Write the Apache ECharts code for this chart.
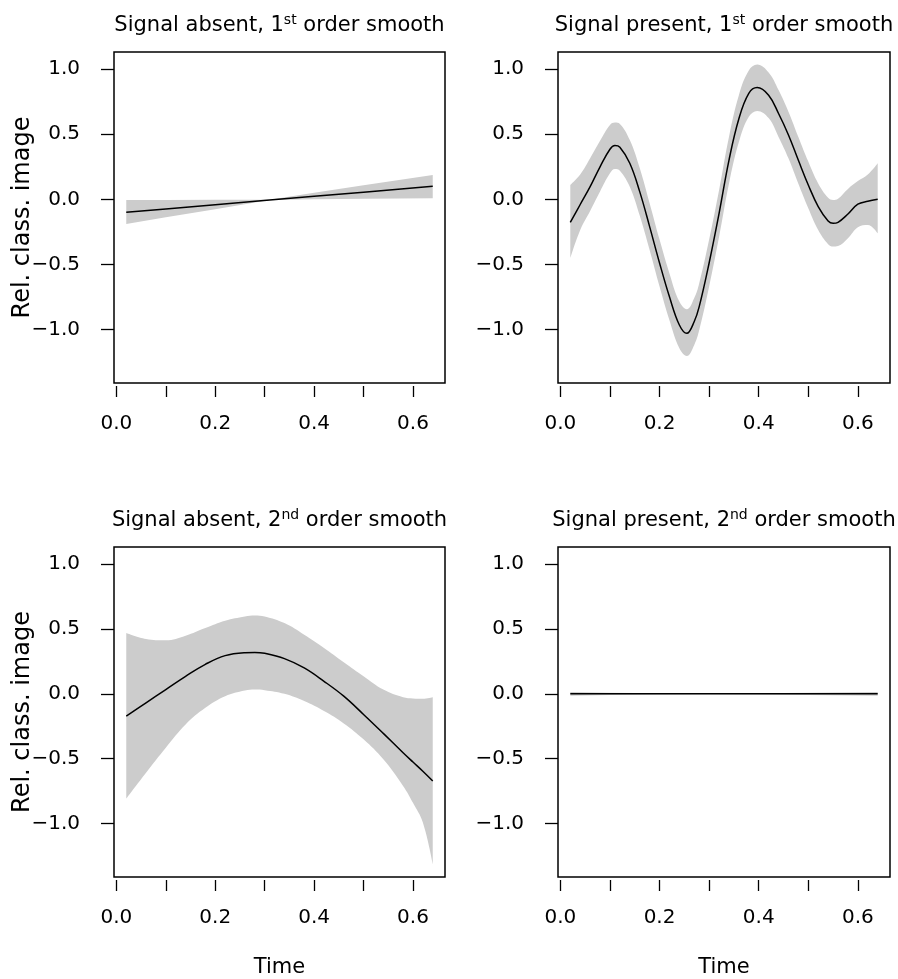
<!DOCTYPE html>
<html><head><meta charset="utf-8">
<script src="https://cdn.jsdelivr.net/npm/echarts@6/dist/echarts.min.js"></script>
<style>html,body{margin:0;padding:0;background:#fff}#c{width:898px;height:979px}</style>
</head><body><div id="c"></div>
<script>
const FONT = 'DejaVu Sans';
const titleMain = ['Signal absent, 1', 'Signal present, 1', 'Signal absent, 2', 'Signal present, 2'];
const titleSup = ['st', 'st', 'nd', 'nd'];
const titleRest = ' order smooth';
const yName = 'Rel. class. image';
const xName = 'Time';
const xTicks = [0, 0.1, 0.2, 0.3, 0.4, 0.5, 0.6];
const xLabels = [0, 0.2, 0.4, 0.6];
const yTicks = [-1, -0.5, 0, 0.5, 1];

// Panel 1: signal absent, 1st order smooth
const x1 = [0.02, 0.1, 0.2, 0.31, 0.4, 0.5, 0.64];
const mid1 = [-0.10, -0.074, -0.042, -0.006, 0.023, 0.055, 0.10];
const up1 = [-0.006, -0.005, -0.004, -0.003, 0.051, 0.108, 0.187];
const lo1 = [-0.19, -0.139, -0.076, -0.006, 0.001, 0.004, 0.008];

// Panel 2: signal present, 1st order smooth
const x2 = [0.02, 0.04, 0.06, 0.08, 0.10, 0.11, 0.12, 0.14, 0.16, 0.18, 0.20, 0.22, 0.24, 0.255, 0.27, 0.28, 0.30, 0.32, 0.34, 0.36, 0.38, 0.397, 0.42, 0.44, 0.46, 0.48, 0.50, 0.52, 0.54, 0.55, 0.56, 0.58, 0.60, 0.62, 0.64];
const mid2 = [-0.177, -0.04, 0.097, 0.25, 0.385, 0.413, 0.40, 0.277, 0.059, -0.21, -0.49, -0.75, -0.967, -1.031, -0.94, -0.826, -0.49, -0.11, 0.30, 0.62, 0.815, 0.859, 0.80, 0.66, 0.495, 0.30, 0.11, -0.056, -0.167, -0.185, -0.177, -0.113, -0.038, -0.015, 0.0];
const up2 = [0.11, 0.19, 0.315, 0.45, 0.572, 0.59, 0.58, 0.456, 0.24, -0.03, -0.31, -0.57, -0.787, -0.846, -0.76, -0.646, -0.31, 0.07, 0.48, 0.80, 0.99, 1.036, 0.975, 0.84, 0.674, 0.48, 0.29, 0.122, 0.012, -0.005, 0.005, 0.08, 0.14, 0.19, 0.277];
const lo2 = [-0.454, -0.236, -0.09, 0.06, 0.20, 0.233, 0.22, 0.097, -0.125, -0.39, -0.67, -0.93, -1.146, -1.205, -1.12, -1.006, -0.67, -0.29, 0.12, 0.44, 0.635, 0.68, 0.625, 0.48, 0.315, 0.12, -0.069, -0.236, -0.345, -0.364, -0.36, -0.30, -0.215, -0.197, -0.262];

// Panel 3: signal absent, 2nd order smooth
const x3 = [0.02, 0.06, 0.10, 0.14, 0.18, 0.22, 0.26, 0.28, 0.30, 0.34, 0.38, 0.42, 0.46, 0.50, 0.54, 0.58, 0.60, 0.62, 0.64];
const mid3 = [-0.172, -0.069, 0.033, 0.135, 0.228, 0.295, 0.318, 0.32, 0.313, 0.272, 0.20, 0.097, -0.018, -0.159, -0.305, -0.454, -0.526, -0.597, -0.672];
const up3 = [0.469, 0.423, 0.413, 0.449, 0.508, 0.564, 0.597, 0.605, 0.597, 0.546, 0.456, 0.354, 0.244, 0.136, 0.033, -0.026, -0.035, -0.038, -0.026];
const lo3 = [-0.808, -0.608, -0.415, -0.236, -0.108, -0.018, 0.026, 0.033, 0.028, 0.0, -0.056, -0.133, -0.228, -0.351, -0.505, -0.71, -0.84, -0.992, -1.313];

// Panel 4: signal present, 2nd order smooth
const x4 = [0.02, 0.1, 0.2, 0.3, 0.4, 0.5, 0.64];
const mid4 = [0, 0, 0, 0, 0, 0, 0];
const up4 = [0.014, 0.008, 0.005, 0.004, 0.005, 0.008, 0.014];
const lo4 = [-0.014, -0.008, -0.005, -0.004, -0.005, -0.008, -0.014];

const panels = [
  {x: x1, mid: mid1, up: up1, lo: lo1, smooth: false},
  {x: x2, mid: mid2, up: up2, lo: lo2, smooth: 0.4},
  {x: x3, mid: mid3, up: up3, lo: lo3, smooth: 0.4},
  {x: x4, mid: mid4, up: up4, lo: lo4, smooth: false}
];

const grids = [
  {left: 114, top: 52, width: 331, height: 331},
  {left: 558, top: 52, width: 332, height: 331},
  {left: 114, top: 547, width: 331, height: 331},
  {left: 558, top: 547, width: 332, height: 331}
];

const fmt = v => (v < -1e-9 ? '\u2212' : '') + Math.abs(v).toFixed(1);

const option = {
  backgroundColor: '#fff',
  animation: false,
  title: grids.map((g, i) => ({
    text: '{a|' + titleMain[i] + '}{b|' + titleSup[i] + '}{a|' + titleRest + '}',
    left: g.left + g.width / 2 - 5,
    top: g.top - 44,
    textAlign: 'center',
    textStyle: {
      fontWeight: 'normal',
      rich: {
        a: {fontSize: 21, fontFamily: FONT, fontWeight: 'normal', color: '#000', lineHeight: 26},
        b: {fontSize: 14, fontFamily: FONT, fontWeight: 'normal', color: '#000', verticalAlign: 'top', lineHeight: 26, padding: [0, 0, 12, 0]}
      }
    }
  })),
  grid: grids.map(g => Object.assign({show: true, borderColor: '#000', borderWidth: 1.5, backgroundColor: 'transparent'}, g)),
  xAxis: grids.map((g, i) => ({
    gridIndex: i, type: 'value', min: -0.0048, max: 0.6648, offset: 3, position: 'bottom',
    name: i >= 2 ? xName : '', nameLocation: 'middle', nameGap: 77, nameMoveOverlap: false,
    nameTextStyle: {fontSize: 21, fontFamily: FONT, color: '#000'},
    axisLine: {show: false, onZero: false},
    axisTick: {show: true, length: 11, customValues: xTicks, lineStyle: {color: '#000', width: 1.3}},
    axisLabel: {customValues: xLabels, formatter: fmt, margin: 28, fontSize: 20, fontFamily: FONT, color: '#000'},
    splitLine: {show: false}
  })),
  yAxis: grids.map((g, i) => ({
    gridIndex: i, type: 'value', min: -1.413, max: 1.133, position: 'left',
    name: i % 2 === 0 ? yName : '', nameLocation: 'middle', nameGap: 79, nameMoveOverlap: false,
    nameTextStyle: {fontSize: 24, fontFamily: FONT, color: '#000'},
    axisLine: {show: false, onZero: false},
    axisTick: {show: true, length: 13, customValues: yTicks, lineStyle: {color: '#000', width: 1.3}},
    axisLabel: {customValues: yTicks, formatter: fmt, margin: 34, fontSize: 20, fontFamily: FONT, color: '#000'},
    splitLine: {show: false}
  })),
  series: []
};

panels.forEach((p, i) => {
  const common = {type: 'line', xAxisIndex: i, yAxisIndex: i, symbol: 'none', smooth: p.smooth, silent: true};
  // band: lower edge (invisible) + stacked width (filled), value first so the stack runs on y
  option.series.push(Object.assign({}, common, {
    data: p.x.map((x, k) => [p.lo[k], x]),
    encode: {x: 1, y: 0},
    stack: 'band' + i, stackStrategy: 'all',
    lineStyle: {width: 0, opacity: 0}
  }));
  option.series.push(Object.assign({}, common, {
    data: p.x.map((x, k) => [p.up[k] - p.lo[k], x]),
    encode: {x: 1, y: 0},
    stack: 'band' + i, stackStrategy: 'all',
    lineStyle: {width: 0, opacity: 0},
    areaStyle: {color: '#cccccc', opacity: 1}
  }));
  option.series.push(Object.assign({}, common, {
    data: p.x.map((x, k) => [x, p.mid[k]]),
    lineStyle: {color: '#000', width: 1.5}
  }));
});

const chart = echarts.init(document.getElementById('c'), null, {renderer: 'canvas'});
chart.setOption(option);
</script>
</body></html>
